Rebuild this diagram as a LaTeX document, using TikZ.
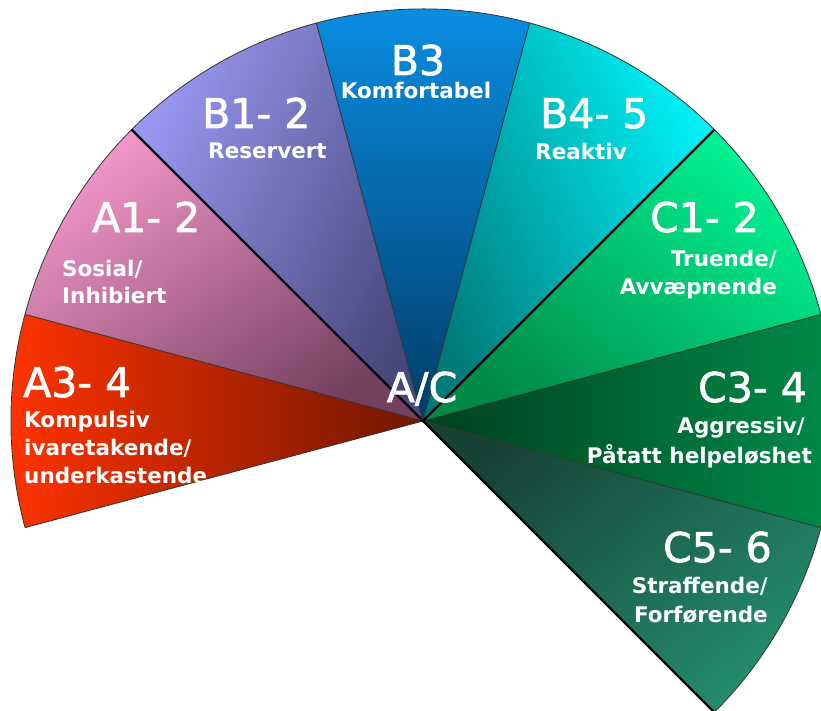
\documentclass[tikz,border=0pt]{standalone}
\usepackage{fontspec}
\setmainfont{DejaVu Sans}
\newfontfamily\biglabelfont{DejaVu Sans}[FakeBold=1.6]
\definecolor{aThreeL}{HTML}{FF3300}
\definecolor{aThreeD}{HTML}{701600}
\definecolor{aOneL}{HTML}{F295C8}
\definecolor{aOneD}{HTML}{73405F}
\definecolor{bOneL}{HTML}{9898F2}
\definecolor{bOneD}{HTML}{47477A}
\definecolor{bThreeL}{HTML}{0A8EE2}
\definecolor{bThreeD}{HTML}{003C68}
\definecolor{bFourL}{HTML}{00F2F8}
\definecolor{bFourD}{HTML}{007A7A}
\definecolor{cOneL}{HTML}{00F292}
\definecolor{cOneD}{HTML}{008A46}
\definecolor{cThreeL}{HTML}{008C48}
\definecolor{cThreeD}{HTML}{00401E}
\definecolor{cFiveL}{HTML}{248C6C}
\definecolor{cFiveD}{HTML}{164236}
\begin{document}
\begin{tikzpicture}[x=1pt,y=1pt,
  big/.style={text=white, font=\biglabelfont\fontsize{41}{41}\selectfont, inner sep=0pt},
  small/.style={text=white, font=\bfseries\fontsize{21.5}{24}\selectfont, inner sep=0pt},
  thin edge/.style={draw=black!80, line width=0.8pt},
  heavy edge/.style={draw=black, line width=2.2pt}]
\useasboundingbox (0,0) rectangle (821,710);
\clip (0,0) rectangle (821,710);
\def\R{412}
\coordinate (O) at (423,289);
% wedges
\shade[left color=aThreeL, right color=aThreeD]
  (O) -- ++(165:\R) arc[start angle=165, end angle=195, radius=\R] -- cycle;
\shade[top color=aOneL, bottom color=aOneD, shading angle=35]
  (O) -- ++(135:\R) arc[start angle=135, end angle=165, radius=\R] -- cycle;
\shade[top color=bOneL, bottom color=bOneD, shading angle=65]
  (O) -- ++(105:\R) arc[start angle=105, end angle=135, radius=\R] -- cycle;
\shade[top color=bThreeL, bottom color=bThreeD]
  (O) -- ++(75:\R) arc[start angle=75, end angle=105, radius=\R] -- cycle;
\shade[top color=bFourL, bottom color=bFourD, shading angle=-65]
  (O) -- ++(45:\R) arc[start angle=45, end angle=75, radius=\R] -- cycle;
\shade[top color=cOneL, bottom color=cOneD, shading angle=-40]
  (O) -- ++(15:\R) arc[start angle=15, end angle=45, radius=\R] -- cycle;
\shade[left color=cThreeD, right color=cThreeL]
  (O) -- ++(-15:\R) arc[start angle=-15, end angle=15, radius=\R] -- cycle;
\shade[top color=cFiveL, bottom color=cFiveD, shading angle=-140]
  (O) -- ++(-45:\R) arc[start angle=-45, end angle=-15, radius=\R] -- cycle;
% outlines
\draw[thin edge] (O) ++(195:\R) arc[start angle=195, end angle=-45, radius=\R];
\foreach \a in {195,165,105,75,15,-15}{\draw[thin edge] (O) -- ++(\a:\R);}
\foreach \a in {135,45,-45}{\draw[heavy edge] (O) -- ++(\a:\R);}
% labels
\node[big, anchor=base west] (a34) at (23,313) {A3- 4};
\node[small, anchor=base west] (a34a) at (24,283) {Kompulsiv};
\node[small, anchor=base west] (a34b) at (24,255) {ivaretakende/};
\node[small, anchor=base west] (a34c) at (24,227) {underkastende};
\node[big, anchor=base west] (a12) at (92,478) {A1- 2};
\node[small, anchor=base west] (a12a) at (62,433) {Sosial/};
\node[small, anchor=base west] (a12b) at (62,406) {Inhibiert};
\node[big, anchor=base west] (b12) at (202,582) {B1- 2};
\node[small, anchor=base west] (b12a) at (208,551) {Reservert};
\node[big, anchor=base] (b3) at (418,635) {B3};
\node[small, anchor=base] (b3a) at (416,611) {Komfortabel};
\node[big, anchor=base west] (b45) at (540,582) {B4- 5};
\node[small, anchor=base west] (b45a) at (535,550) {Reaktiv};
\node[big, anchor=base west] (c12) at (650,478) {C1- 2};
\node[small, anchor=base east] (c12a) at (777,443) {Truende/};
\node[small, anchor=base east] (c12b) at (777,415) {Avvæpnende};
\node[big, anchor=base] (ac) at (422,308) {A/C};
\node[big, anchor=base east] (c34) at (807,308) {C3- 4};
\node[small, anchor=base east] (c34a) at (805,277) {Aggressiv/};
\node[small, anchor=base east] (c34b) at (812,247) {Påtatt helpeløshet};
\node[big, anchor=base east] (c56) at (772,148) {C5- 6};
\node[small, anchor=base east] (c56a) at (768,117) {Straffende/};
\node[small, anchor=base east] (c56b) at (768,88) {Forførende};
\end{tikzpicture}
\end{document}
